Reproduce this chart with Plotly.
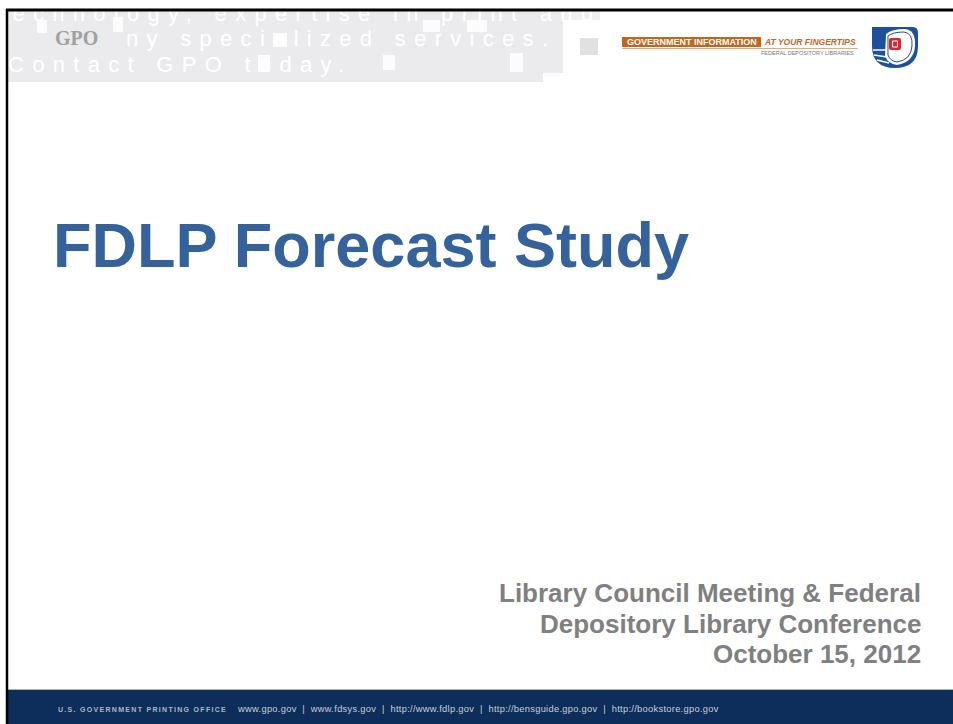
import plotly.graph_objects as go

W, H = 953, 724

# ---- content ----
title_text = "FDLP Forecast Study"
subtitle_lines = ["Library Council Meeting & Federal",
                  "Depository Library Conference",
                  "October 15, 2012"]
header_lines = ["technology, expertise in print and",
                "ny specialized services.",
                "Contact GPO today."]
footer_org = "U.S. GOVERNMENT PRINTING OFFICE"
footer_links = ["www.gpo.gov", "www.fdsys.gov", "http://www.fdlp.gov",
                "http://bensguide.gpo.gov", "http://bookstore.gpo.gov"]
logo_banner = "GOVERNMENT INFORMATION"
logo_tagline = "AT YOUR FINGERTIPS"
logo_sub = "FEDERAL DEPOSITORY LIBRARIES"
gpo_logo = "GPO"


def px(x):
    return x / W


def py(y):
    return 1 - y / H


def path(cmds):
    out = []
    for c in cmds:
        if c[0] == "Z":
            out.append("Z")
        elif c[0] == "Q":
            out.append(f"Q{px(c[1]):.5f},{py(c[2]):.5f} {px(c[3]):.5f},{py(c[4]):.5f}")
        else:
            out.append(f"{c[0]}{px(c[1]):.5f},{py(c[2]):.5f}")
    return " ".join(out)


shapes = []


def rect(x0, y0, x1, y1, color, layer="below", opacity=1.0):
    shapes.append(dict(type="rect", xref="paper", yref="paper",
                       x0=px(x0), x1=px(x1), y0=py(y1), y1=py(y0),
                       fillcolor=color, line=dict(width=0), layer=layer,
                       opacity=opacity))


def line(x0, y0, x1, y1, color, width, layer="above"):
    shapes.append(dict(type="line", xref="paper", yref="paper",
                       x0=px(x0), x1=px(x1), y0=py(y0), y1=py(y1),
                       line=dict(color=color, width=width), layer=layer))


def pshape(cmds, fill, linecolor=None, lw=0, layer="above"):
    shapes.append(dict(type="path", xref="paper", yref="paper", path=path(cmds),
                       fillcolor=fill, layer=layer,
                       line=dict(color=linecolor or fill, width=lw)))


BAND = "#ebebed"
# header grey band
rect(8, 11, 543, 82, BAND)
rect(543, 11, 563, 73, BAND)
rect(563, 11, 600, 20, "#efeff1")

# white squares in the band
for (x0, y0, x1, y1) in [(37, 20, 47, 33), (113, 17, 123, 32), (273, 33, 287, 47),
                         (258, 55, 270, 72), (383, 55, 395, 70), (510, 53, 523, 72),
                         (423, 20, 440, 32), (467, 20, 487, 32)]:
    rect(x0, y0, x1, y1, "white", layer="above", opacity=0.85)
# grey square right of band
rect(580, 38, 598, 55, "#e1e1e4", layer="above")

# orange banner logo
rect(622, 37, 761, 47, "#c2661e", layer="above")
line(622, 48.5, 858, 48.5, "#e3aa74", 1)

# eagle logo
pshape([("M", 872, 27), ("L", 913, 27), ("Q", 918, 27, 918, 33), ("L", 918, 46),
        ("Q", 918, 68, 895, 68), ("Q", 872, 68, 872, 46), ("Z",)], "#1d4f9c")
pshape([("M", 886, 34), ("Q", 892, 29, 905, 29), ("Q", 916, 30, 915, 46),
        ("Q", 914, 62, 897, 65), ("Q", 888, 64, 885, 56), ("Z",)], "white")
pshape([("M", 888, 36), ("Q", 893, 32, 904, 32), ("Q", 913, 33, 912, 46),
        ("Q", 911, 60, 897, 62), ("Q", 890, 61, 888, 55), ("Z",)], "rgba(0,0,0,0)",
       linecolor="#1d4f9c", lw=1)
for (x0, y0, x1, y1) in [(873, 50, 886, 50), (874, 55, 887, 57), (877, 60, 889, 63)]:
    line(x0, y0, x1, y1, "white", 1.5)
pshape([("M", 891, 38), ("L", 899, 38), ("Q", 901, 38, 901, 40), ("L", 901, 48),
        ("Q", 901, 50, 899, 50), ("L", 891, 50), ("Q", 889, 50, 889, 48),
        ("L", 889, 40), ("Q", 889, 38, 891, 38), ("Z",)], "#d42a2f")
pshape([("M", 892.5, 41), ("L", 897.5, 41), ("L", 897.5, 47), ("L", 892.5, 47), ("Z",)],
       "rgba(0,0,0,0)", linecolor="white", lw=1)

# footer
rect(8, 690, 953, 724, "#0d2e5b", layer="above")
line(8, 689.5, 953, 689.5, "#a3b5cb", 1)

# slide borders
line(6, 10, 953, 10, "black", 3)
line(7, 9, 7, 724, "black", 2.5)

annotations = []


def ann(text, x, y, size, color, xanchor="left", bold=False, family="Liberation Sans, Arial",
        style="normal"):
    annotations.append(dict(text=text, x=px(x), y=py(y), xref="paper", yref="paper",
                            xanchor=xanchor, yanchor="middle", showarrow=False,
                            font=dict(size=size, color=color, family=family,
                                      weight=700 if bold else 400, style=style)))


ann(title_text, 51, 245, 63, "#36629b", bold=True)
for txt, base in zip(subtitle_lines, [602, 633, 663]):
    ann(txt, 923, base - 9, 26, "#808080", xanchor="right", bold=True)

ann(gpo_logo, 53, 38, 20, "#a0a0a0", bold=True, family="Liberation Serif, Times New Roman")
ann(logo_banner, 691.5, 42, 9, "white", xanchor="center", bold=True)
ann(logo_tagline, 762, 42, 8.5, "#c2661e", bold=True, style="italic")
ann(logo_sub, 856, 53, 5.5, "#777777", xanchor="right")

ann(f'<span style="letter-spacing:1.3px">{footer_org}</span>', 56, 709, 7, "#aeb8c6", bold=True)
ann(f'<span style="letter-spacing:0.3px">{"  |  ".join(footer_links)}</span>',
    235, 709, 9.3, "#c8ced8")

fig = go.Figure()
fig.add_trace(go.Scatter(
    x=[-2, 126, 8], y=[15, 40, 66], mode="text",
    text=[f'<span style="letter-spacing:8.3px">{t}</span>' for t in header_lines],
    textposition="middle right",
    textfont=dict(family="Liberation Sans, Arial", size=22, color="white"),
    hoverinfo="skip", showlegend=False, cliponaxis=True))

fig.update_layout(
    width=W, height=H, margin=dict(l=0, r=0, t=0, b=0),
    paper_bgcolor="white", plot_bgcolor="rgba(0,0,0,0)",
    xaxis=dict(domain=[px(8), px(600)], range=[8, 600], visible=False, fixedrange=True),
    yaxis=dict(domain=[py(82), py(11)], range=[82, 11], visible=False, fixedrange=True),
    shapes=shapes, annotations=annotations, showlegend=False,
)

fig.write_html("out.html", config={"displayModeBar": False},
               post_script="document.body.style.margin='0';document.body.style.overflow='hidden';")
